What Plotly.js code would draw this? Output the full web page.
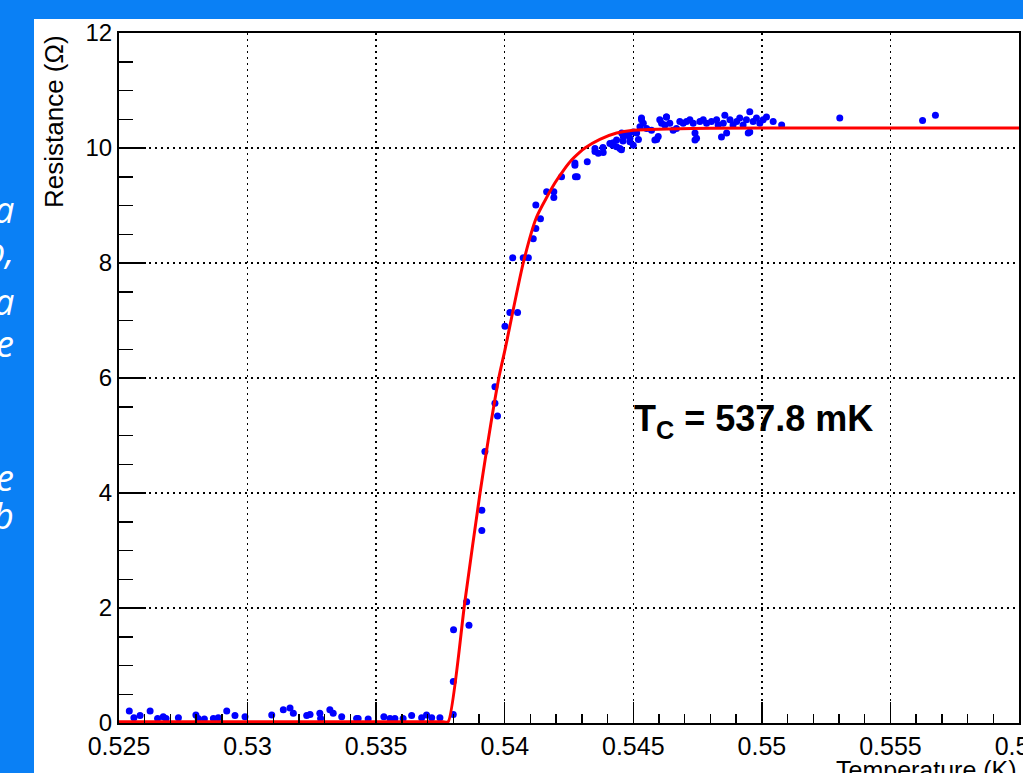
<!DOCTYPE html>
<html>
<head>
<meta charset="utf-8">
<script src="https://cdn.plot.ly/plotly-3.0.1.min.js"></script>
<style>html,body{margin:0;padding:0;background:#0a80f5;}#chart{width:1023px;height:773px;}</style>
</head>
<body>
<div id="chart"></div>
<script>
// Measured points: temperature (K) and resistance (Ohm)
const tempK = [
  0.52540,0.52558,0.52582,0.52621,0.52650,0.52672,0.52683,0.52731,0.52799,0.52808,
  0.52832,0.52867,0.52886,0.52919,0.52951,0.52990,0.53094,0.53139,0.53165,0.53178,
  0.53230,0.53243,0.53281,0.53284,0.53320,0.53333,0.53366,0.53424,0.53430,0.53469,
  0.53530,0.53554,0.53573,0.53605,0.53638,0.53677,0.53696,0.53716,0.53748,
  0.53800,0.53800,0.53801,0.53852,0.53861,0.53911,0.53911,0.53923,0.53962,0.53962,
  0.53972,0.54001,0.54020,0.54050,0.54031,0.54072,0.54092,0.54111,0.54121,0.54139,
  0.54121,0.54163,0.54191,0.54191,0.54221,0.54275,0.54282,0.54273,0.54273,0.54321,
  0.54351,0.54364,0.54383,0.54454,0.54351,0.54382,
  0.54409,0.54422,0.54435,0.54455,0.54461,0.54474,0.54487,0.54500,0.54513,0.54526,
  0.54532,0.54539,0.54552,0.54571,0.54584,0.54597,0.54603,0.54610,0.54623,0.54629,
  0.54642,0.54655,0.54668,0.54681,0.54694,0.54707,0.54720,0.54733,0.54740,0.54746,
  0.54759,0.54772,0.54785,0.54804,0.54824,0.54830,0.54850,0.54856,0.54863,0.54876,
  0.54888,0.54902,0.54914,0.54927,0.54940,0.54947,0.54953,0.54966,0.54979,0.54992,
  0.55005,0.55018,0.55044,0.55077,
  0.54435,0.54448,0.54487,0.54532,0.54629,0.54591,0.54740,0.54843,0.54953,
  0.55303,0.55625,0.55675,
  0.54420,0.54460,0.54500,0.54520,0.54480
];
const resOhm = [
  0.21,0.09,0.13,0.21,0.08,0.11,0.08,0.09,0.14,0.08,
  0.07,0.08,0.09,0.21,0.13,0.11,0.14,0.23,0.26,0.17,
  0.13,0.15,0.17,0.08,0.23,0.17,0.11,0.08,0.08,0.07,
  0.11,0.08,0.08,0.08,0.13,0.09,0.14,0.09,0.09,
  0.15,0.72,1.62,2.11,1.70,3.35,3.70,4.72,5.56,5.85,
  5.34,6.90,7.14,7.14,8.09,8.09,8.09,8.42,8.60,8.77,
  9.01,9.24,9.24,9.14,9.50,9.50,9.50,9.70,9.74,9.76,
  9.94,9.91,9.92,9.97,9.99,10.01,
  10.08,10.09,10.14,10.26,10.20,10.23,10.17,10.28,10.26,10.37,
  10.49,10.43,10.34,10.31,10.14,10.20,10.49,10.43,10.40,10.54,
  10.43,10.31,10.34,10.46,10.43,10.46,10.49,10.43,10.26,10.17,
  10.46,10.49,10.43,10.46,10.49,10.40,10.43,10.57,10.26,10.49,
  10.40,10.46,10.52,10.40,10.49,10.26,10.63,10.46,10.52,10.43,
  10.49,10.54,10.46,10.40,
  10.02,9.99,10.11,10.52,10.54,10.15,10.14,10.19,10.28,
  10.52,10.48,10.57,
  10.05,10.12,10.05,10.15,10.22
];
// Fit curve
const fitT = [0.525,0.5372,0.5376,0.5378,0.53845,0.53904,0.53977,0.54001,0.54072,0.54124,0.54195,0.5423,0.5426,0.5429,0.54312,0.5437,0.54435,0.545,0.5456,0.5463,0.548,0.56];
const fitR = [0.02,0.02,0.02,0.02,2.11,4.0,6.0,6.49,8.0,8.80,9.39,9.62,9.79,9.92,10.0,10.15,10.26,10.31,10.32,10.33,10.345,10.35];

const annotText = "T<sub>C</sub> = 537.8 mK";
const xTitle = "Temperature (K)";
const yTitle = "Resistance (Ω)";
const sideText = ["a","o,","a","e","e","b"];

const FONT = "Liberation Sans, Arial, Helvetica, sans-serif";
const blue = "#0a80f5";

const traces = [
  {x: tempK, y: resOhm, type: "scatter", mode: "markers",
   marker: {color: "#0000ff", size: 7}, hoverinfo: "skip"},
  {x: fitT, y: fitR, type: "scatter", mode: "lines",
   line: {color: "#ff0000", width: 3, shape: "spline", smoothing: 0.6}, hoverinfo: "skip"}
];

const sideY = [210, 250, 301, 343, 477, 515];
const annotations = [
  {text: "<b>" + annotText + "</b>", xref: "x", yref: "y", x: 0.54496, y: 5.25, xanchor: "left", yanchor: "middle",
   showarrow: false, font: {family: FONT, size: 36, color: "#000"}},
  {text: yTitle, xref: "paper", yref: "paper", x: (54-119)/900, y: (723-122)/690, textangle: -90,
   xanchor: "center", yanchor: "middle", showarrow: false, font: {family: FONT, size: 26, color: "#000"}},
  {text: xTitle, xref: "paper", yref: "paper", x: 1.0, y: (723-754)/690, xanchor: "right", yanchor: "top",
   showarrow: false, font: {family: FONT, size: 25, color: "#000"}}
];
sideText.forEach((t, i) => {
  annotations.push({text: "<i>" + t + "</i>", xref: "paper", yref: "paper", x: (16-119)/900, y: (723-sideY[i])/690,
    xanchor: "right", yanchor: "middle", showarrow: false,
    font: {family: "Open Sans, Noto Sans, sans-serif", size: 36, color: "#ffffff"}});
});

const layout = {
  width: 1023, height: 773,
  margin: {l: 119, r: 4, t: 33, b: 50, pad: 0},
  paper_bgcolor: blue, plot_bgcolor: "#ffffff",
  showlegend: false,
  font: {family: FONT, color: "#000"},
  shapes: [
    {type: "rect", xref: "paper", yref: "paper", x0: (34-119)/900, x1: 1.05, y0: -0.2, y1: (723-19)/690,
     fillcolor: "#ffffff", line: {width: 0}, layer: "below"}
  ],
  xaxis: {
    range: [0.525, 0.56], dtick: 0.005, tick0: 0.525,
    ticks: "inside", ticklen: 21, tickwidth: 1.5, tickcolor: "#000",
    minor: {dtick: 0.001, ticks: "inside", ticklen: 9, tickwidth: 1.5, tickcolor: "#000", showgrid: false},
    showgrid: true, gridcolor: "#000", gridwidth: 1.5, griddash: "2px,4px",
    showline: true, linecolor: "#000", linewidth: 2, mirror: true,
    zeroline: false, tickfont: {family: FONT, size: 25, color: "#000"},
    ticklabeloverflow: "allow", automargin: false
  },
  yaxis: {
    range: [0, 12], dtick: 2, tick0: 0,
    ticks: "inside", ticklen: 27, tickwidth: 1.5, tickcolor: "#000",
    minor: {dtick: 0.5, ticks: "inside", ticklen: 14, tickwidth: 1.5, tickcolor: "#000", showgrid: false},
    showgrid: true, gridcolor: "#000", gridwidth: 1.5, griddash: "2px,4px",
    showline: true, linecolor: "#000", linewidth: 2, mirror: true,
    zeroline: false, tickfont: {family: FONT, size: 24, color: "#000"},
    ticklabeloverflow: "allow", automargin: false
  },
  annotations: annotations
};

Plotly.newPlot("chart", traces, layout, {displayModeBar: false, staticPlot: true});
</script>
</body>
</html>
